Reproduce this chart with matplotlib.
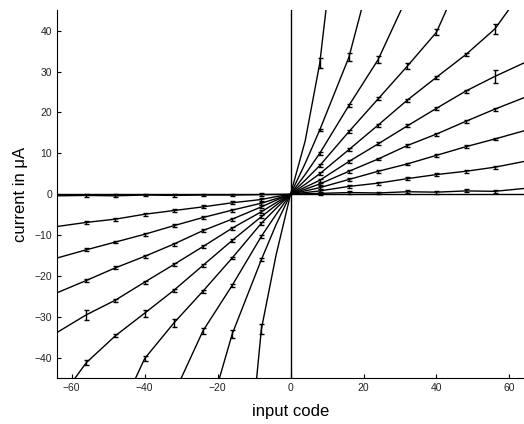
import matplotlib
matplotlib.use("Agg")
import matplotlib.pyplot as plt
import numpy as np

codes = [-64, -56, -48, -40, -32, -24, -16, -8, -4, 0, 4, 8, 16, 24, 32, 40, 48, 56, 64]
nan = float("nan")

# measured output current (uA), one list per gain setting, steepest first
curve1 = [nan, nan, nan, nan, nan, nan, -107, -33.0, -15.0, 0, 13.0, 32.0, 93, nan, nan, nan, nan, nan, nan]
curve2 = [nan, nan, nan, nan, nan, -58.9, -34.2, -16.0, -7.5, 0, 7.5, 15.7, 33.5, 60.6, nan, nan, nan, nan, nan]
curve3 = [nan, nan, nan, nan, -48.9, -33.4, -22.3, -10.3, -5.0, 0, 4.8, 10.0, 21.7, 32.9, 48.3, nan, nan, nan, nan]
curve4 = [nan, nan, -55.6, -40.2, -31.5, -23.7, -15.6, -7.1, -3.5, 0, 3.4, 7.0, 15.3, 23.3, 31.3, 39.6, 55.6, nan, nan]
curve5 = [-51.0, -41.2, -34.6, -29.1, -23.5, -17.4, -11.3, -5.5, -2.7, 0, 2.4, 5.0, 10.9, 16.9, 23.0, 28.6, 34.1, 40.4, 50.3]
curve6 = [-33.8, -29.5, -25.9, -21.5, -17.2, -12.8, -8.3, -4.3, -2.1, 0, 1.7, 3.4, 8.0, 12.3, 16.7, 21.0, 25.2, 28.8, 32.1]
curve7 = [-24.1, -21.1, -18.0, -15.2, -12.2, -8.9, -6.1, -3.1, -1.5, 0, 1.2, 2.5, 5.6, 8.6, 11.9, 14.7, 17.8, 20.8, 23.6]
curve8 = [-15.6, -13.6, -11.7, -9.8, -7.7, -5.7, -3.9, -2.2, -1.1, 0, 0.8, 1.6, 3.6, 5.6, 7.4, 9.5, 11.6, 13.5, 15.5]
curve9 = [-7.9, -6.9, -6.1, -4.9, -4.0, -3.1, -2.1, -1.3, -0.6, 0, 0.4, 0.8, 1.9, 2.7, 3.8, 4.8, 5.6, 6.6, 8.0]
curve10 = [-0.4, -0.3, -0.4, -0.2, -0.3, -0.2, -0.2, -0.1, -0.05, 0, 0.1, 0.2, 0.4, 0.3, 0.6, 0.5, 0.8, 0.7, 1.4]
curves = [curve1, curve2, curve3, curve4, curve5, curve6, curve7, curve8, curve9, curve10]

# codes where repeated measurements were taken (error bars)
bar_codes = [-56, -48, -40, -32, -24, -16, -8, 8, 16, 24, 32, 40, 48, 56]
small_err = 0.35
# (curve number, code, std) for the larger error bars
big_err = [(1, 8, 1.2), (2, 16, 1.0), (3, 24, 0.8), (4, 32, 0.8), (4, 40, 0.7),
           (5, 56, 1.2), (6, 56, 1.5), (6, -56, 1.3), (5, -40, 0.9), (4, -32, 1.0),
           (3, -24, 0.8), (2, -16, 1.0), (1, -8, 1.3), (5, -56, 0.6), (4, -40, 0.6)]

x_ticks = [-60, -40, -20, 0, 20, 40, 60]
y_ticks = [-40, -30, -20, -10, 0, 10, 20, 30, 40]

fig = plt.figure(figsize=(5.24, 4.24), dpi=100)
ax = fig.add_axes([0.109, 0.108, 0.891, 0.868])

x = np.array(codes, dtype=float)
for n, c in enumerate(curves, start=1):
    y = np.array(c, dtype=float)
    ax.plot(x, y, color="black", lw=1.0)
    bx, by, be = [], [], []
    for b in bar_codes:
        v = y[codes.index(b)]
        if np.isnan(v) or abs(v) > 44.5:
            continue
        e = small_err
        for (k, cc, s) in big_err:
            if k == n and cc == b:
                e = s
        bx.append(b)
        by.append(v)
        be.append(e)
    ax.errorbar(bx, by, yerr=be, fmt="none", ecolor="black", elinewidth=1.0,
                capsize=1.8, capthick=1.0)

ax.axhline(0, color="black", lw=1.0)
ax.axvline(0, color="black", lw=1.0)

ax.set_xlim(-64, 64)
ax.set_ylim(-45, 45)
ax.set_xticks(x_ticks)
ax.set_yticks(y_ticks)
ax.spines["top"].set_visible(False)
ax.spines["right"].set_visible(False)
ax.tick_params(direction="in", length=3, labelsize=7.5, colors="black", labelcolor="#222222")
for lab in ax.get_xticklabels() + ax.get_yticklabels():
    lab.set_family(["Liberation Sans", "DejaVu Sans"])

ax.set_xlabel("input code", fontsize=12, family=["Liberation Sans", "DejaVu Sans"], labelpad=8)
ax.set_ylabel("current in \u03bcA", fontsize=12, family=["Liberation Sans", "DejaVu Sans"], labelpad=5)

fig.savefig("out.png", dpi=100)
